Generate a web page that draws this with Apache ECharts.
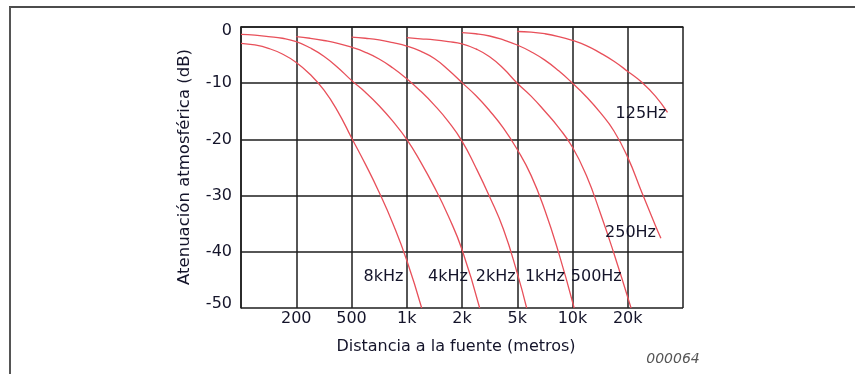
<!DOCTYPE html>
<html>
<head>
<meta charset="utf-8">
<script src="https://cdn.jsdelivr.net/npm/echarts@6/dist/echarts.min.js"></script>
<style>
html,body{margin:0;padding:0;background:#fff;}
#c{width:855px;height:374px;}
</style>
</head>
<body>
<div id="c"></div>
<script>
// Distance ticks of the chart's 1-2-5 scale (metres); equally spaced on the axis
const distTicks = [100, 200, 500, 1000, 2000, 5000, 10000, 20000, 50000];
const distTickLabels = ['', '200', '500', '1k', '2k', '5k', '10k', '20k', ''];
const yTicks = [0, -10, -20, -30, -40, -50];

// Curves: [distance in metres, attenuation dB]
const att8kHz = [[100,-2.9],[119,-3.2],[141,-3.8],[168,-4.8],[200,-6.3],[251,-8.4],[316,-11.2],[398,-15.0],[500,-19.7],[595,-24.4],[707,-29.4],[841,-35.0],[1000,-41.5],[1206,-50]];
const att4kHz = [[100,-1.3],[119,-1.45],[141,-1.7],[168,-2.0],[200,-2.6],[251,-3.7],[316,-5.2],[398,-7.2],[500,-9.5],[595,-11.6],[707,-14.0],[841,-16.8],[1000,-20.0],[1189,-24.0],[1414,-28.5],[1682,-33.6],[2000,-39.6],[2681,-50]];
const att2kHz = [[200,-1.7],[251,-2.0],[316,-2.4],[398,-2.9],[500,-3.6],[595,-4.5],[707,-5.7],[841,-7.3],[1000,-9.2],[1189,-11.4],[1414,-13.9],[1682,-16.8],[2000,-20.3],[2515,-25.0],[3162,-30.2],[3976,-36.0],[5000,-43.8],[5626,-50]];
const att1kHz = [[500,-1.8],[595,-2.0],[707,-2.3],[841,-2.8],[1000,-3.4],[1189,-4.3],[1414,-5.6],[1682,-7.6],[2000,-9.9],[2515,-12.2],[3162,-14.9],[3976,-18.0],[5000,-21.8],[5946,-26.4],[7071,-32.6],[8409,-40.2],[10210,-50]];
const att500Hz = [[1000,-1.9],[1189,-2.1],[1414,-2.3],[1682,-2.6],[2000,-3.0],[2515,-3.9],[3162,-5.3],[3976,-7.4],[5000,-10.0],[5946,-12.3],[7071,-15.0],[8409,-17.9],[10000,-21.4],[11892,-26.4],[14142,-33.0],[16818,-40.3],[21130,-50]];
const att250Hz = [[2000,-1.0],[2515,-1.2],[3162,-1.6],[3976,-2.3],[5000,-3.2],[5946,-4.4],[7071,-5.9],[8409,-7.8],[10000,-10.0],[11892,-12.4],[14142,-15.2],[16818,-18.5],[20000,-23.2],[25149,-29.3],[31623,-35.3],[34656,-37.6]];
const att125Hz = [[5000,-0.8],[5946,-0.9],[7071,-1.2],[8409,-1.7],[10000,-2.4],[11892,-3.3],[14142,-4.6],[16818,-6.1],[20000,-7.9],[25149,-9.8],[31623,-12.3],[38686,-15.2]];

const curveNames = ['8kHz','4kHz','2kHz','1kHz','500Hz','250Hz','125Hz'];
const curves = [att8kHz, att4kHz, att2kHz, att1kHz, att500Hz, att250Hz, att125Hz];
// label anchor for each curve name: [distance m, dB]
const labelPos = [[747,-44.5],[1676,-44.5],[3497,-44.5],[7071,-44.5],[13472,-44.5],[20938,-36.6],[24920,-15.4]];

const xTitle = 'Distancia a la fuente (metros)';
const yTitle = 'Atenuación atmosférica (dB)';
const figCode = '000064';

// map a distance onto the equally spaced 1-2-5 axis
function toAxis(m) {
  for (let i = 0; i < distTicks.length - 1; i++) {
    const a = distTicks[i], b = distTicks[i + 1];
    if (m <= b || i === distTicks.length - 2) {
      return i + Math.log(m / a) / Math.log(b / a);
    }
  }
  return 0;
}

const FONT = 'DejaVu Sans';
const TEXT = '#14142a';
const chart = echarts.init(document.getElementById('c'), null, {renderer: 'canvas'});

const series = curves.map((c, k) => ({
  type: 'line',
  name: curveNames[k],
  data: c.map(p => [toAxis(p[0]), p[1]]),
  showSymbol: false,
  smooth: 0.5,
  lineStyle: {color: '#e8505a', width: 1.3},
  silent: true,
  z: 3
}));

series.push({
  type: 'scatter',
  data: labelPos.map((p, k) => ({value: [toAxis(p[0]), p[1]], name: curveNames[k]})),
  symbol: 'circle',
  symbolSize: 2,
  itemStyle: {color: 'rgba(255,255,255,0)', opacity: 1},
  label: {
    show: true,
    position: 'inside',
    formatter: p => p.name,
    color: TEXT,
    opacity: 1,
    textBorderWidth: 0,
    fontFamily: FONT,
    fontSize: 16
  },
  silent: true,
  z: 4
});

const yMax = yTicks[0], yMin = yTicks[yTicks.length - 1];

chart.setOption({
  animation: false,
  backgroundColor: '#fff',
  grid: {left: 241, right: 172, top: 27, bottom: 66},
  xAxis: {
    type: 'value',
    min: 0, max: distTicks.length - 1, interval: 1,
    axisLine: {show: true, lineStyle: {color: '#1e1e1e', width: 1.5}},
    axisTick: {show: false},
    splitLine: {show: true, lineStyle: {color: '#1e1e1e', width: 1.5}},
    axisLabel: {
      formatter: v => distTickLabels[Math.round(v)] || '',
      color: TEXT, fontFamily: FONT, fontSize: 16, margin: 3,
      showMinLabel: true, showMaxLabel: true
    }
  },
  yAxis: {
    type: 'value',
    min: yMin, max: yMax, interval: 10,
    axisLine: {show: true, lineStyle: {color: '#1e1e1e', width: 1.5}},
    axisTick: {show: false},
    splitLine: {show: true, lineStyle: {color: '#1e1e1e', width: 1.5}},
    axisLabel: {
      color: TEXT, fontFamily: FONT, fontSize: 16, margin: 9,
      formatter: v => v === yMax ? '{t|' + v + '}' : (v === yMin ? '{b|' + v + '}' : String(v)),
      rich: {
        t: {padding: [8, 0, 0, 0], color: TEXT, fontFamily: FONT, fontSize: 16},
        b: {padding: [0, 0, 8, 0], color: TEXT, fontFamily: FONT, fontSize: 16}
      }
    }
  },
  graphic: [
    {type: 'line', shape: {x1: 9, y1: 7, x2: 855, y2: 7}, style: {stroke: '#111', lineWidth: 1.5}},
    {type: 'line', shape: {x1: 10, y1: 7, x2: 10, y2: 374}, style: {stroke: '#555', lineWidth: 2}},
    {type: 'text', x: 456, y: 347, style: {text: xTitle, fill: TEXT, font: '16px "DejaVu Sans"', align: 'center', verticalAlign: 'middle'}},
    {type: 'text', x: 185, y: 167, rotation: Math.PI / 2, style: {text: yTitle, fill: TEXT, font: '16.5px "DejaVu Sans"', align: 'center', verticalAlign: 'middle'}},
    {type: 'text', x: 673, y: 359, style: {text: figCode, fill: '#555', font: 'italic 14px "DejaVu Sans"', align: 'center', verticalAlign: 'middle'}}
  ],
  series: series
});
</script>
</body>
</html>
